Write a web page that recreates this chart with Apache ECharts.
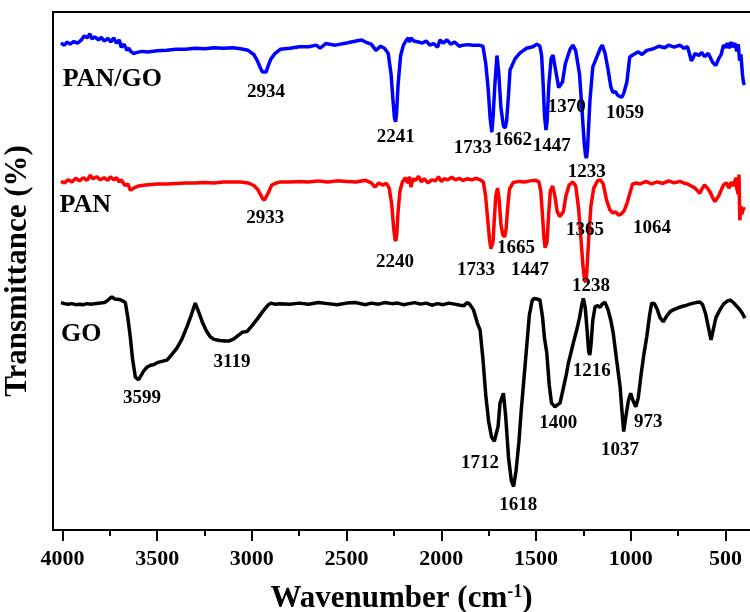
<!DOCTYPE html>
<html>
<head>
<meta charset="utf-8">
<script src="https://cdn.jsdelivr.net/npm/echarts@6/dist/echarts.min.js"></script>
<style>
  html, body { margin: 0; padding: 0; background: #fff; }
  #chart { width: 750px; height: 612px; }
</style>
</head>
<body>
<div id="chart"></div>
<script>
// FTIR spectra: wavenumber (cm-1) vs. transmittance (%, offset per trace)
const majorTicks = [4000, 3500, 3000, 2500, 2000, 1500, 1000, 500];
const minorTicks = [3750, 3250, 2750, 2250, 1750, 1250, 750];

// PAN/GO composite
const panGo = [
  [4008,94.0],[3990,93.6],[3975,94.2],[3960,93.8],[3940,94.3],[3920,94.0],[3900,94.6],[3885,95.4],
  [3870,95.0],[3855,95.8],[3845,94.8],[3830,95.2],[3810,94.6],[3795,95.1],[3780,94.4],[3760,94.9],
  [3745,94.2],[3730,95.0],[3715,94.0],[3700,94.6],[3690,93.2],[3675,93.8],[3660,92.6],[3650,93.0],
  [3640,92.4],[3625,92.0],[3605,92.2],[3580,92.4],[3550,92.3],[3500,92.5],[3450,92.6],[3400,92.8],
  [3350,92.8],[3300,93.0],[3250,92.9],[3200,93.1],[3150,93.0],[3100,93.1],[3060,92.9],[3020,92.6],
  [2990,91.8],[2970,90.5],[2955,89.2],[2944,88.4],[2934,88.1],[2925,88.4],[2915,89.5],[2900,90.9],
  [2880,91.9],[2850,92.8],[2800,93.0],[2750,93.3],[2700,93.3],[2660,93.6],[2640,93.0],[2610,93.9],
  [2560,93.6],[2500,94.0],[2450,94.4],[2420,94.6],[2400,94.2],[2370,93.8],[2345,92.6],[2320,93.4],
  [2300,93.0],[2280,92.0],[2265,88.0],[2255,83.0],[2247,79.5],[2241,78.8],[2236,80.5],[2228,86.0],
  [2215,91.5],[2200,93.6],[2185,94.5],[2175,95.0],[2168,94.2],[2160,95.0],[2145,94.4],[2120,94.2],
  [2100,94.0],[2080,94.4],[2060,93.6],[2040,93.9],[2020,93.2],[2006,94.6],[1990,94.0],[1970,94.6],
  [1950,93.8],[1930,94.2],[1905,93.4],[1885,93.6],[1860,93.7],[1830,93.6],[1800,93.6],[1780,93.4],
  [1765,90.0],[1752,85.0],[1742,79.5],[1733,76.8],[1726,80.0],[1717,86.0],[1706,91.6],[1697,88.5],
  [1685,81.5],[1672,78.0],[1662,77.6],[1655,79.0],[1645,84.0],[1637,88.8],[1610,91.0],[1584,92.1],
  [1550,93.0],[1516,93.3],[1495,93.8],[1479,93.4],[1470,91.5],[1462,86.0],[1455,80.0],[1447,77.2],
  [1441,79.0],[1432,86.0],[1420,91.0],[1410,91.7],[1395,88.5],[1380,85.4],[1370,85.1],[1360,86.5],
  [1345,90.0],[1320,92.8],[1305,93.6],[1290,92.5],[1270,88.0],[1255,80.0],[1245,74.5],[1238,72.2],
  [1233,71.8],[1228,73.5],[1215,83.0],[1200,89.4],[1180,91.2],[1160,93.0],[1150,93.6],[1135,92.0],
  [1120,89.0],[1105,85.6],[1094,84.5],[1080,84.6],[1070,84.0],[1059,83.7],[1045,83.6],[1035,84.5],
  [1020,86.5],[1005,91.3],[985,91.8],[960,92.3],[940,91.8],[915,92.6],[880,92.9],[850,93.4],
  [820,93.1],[800,93.6],[770,93.2],[740,93.6],[720,93.0],[700,93.3],[690,92.0],[680,90.6],
  [672,91.0],[660,92.0],[640,91.6],[625,92.2],[610,91.4],[590,92.0],[566,90.2],[550,89.7],
  [545,89.8],[535,91.0],[522,91.8],[510,93.6],[500,93.1],[490,94.0],[480,93.0],[470,94.2],
  [460,93.2],[450,94.0],[440,92.4],[432,93.8],[425,90.6],[418,91.8],[410,88.0],[405,86.5],[400,85.9]
];

// PAN
const pan = [
  [4008,67.3],[3990,67.0],[3970,67.6],[3950,67.2],[3930,67.9],[3910,67.4],[3890,68.0],[3870,67.5],
  [3853,68.5],[3840,67.8],[3820,68.2],[3800,67.6],[3780,68.0],[3760,67.5],[3747,68.2],[3730,67.6],
  [3715,68.0],[3700,67.2],[3690,67.6],[3670,66.5],[3655,66.8],[3642,65.6],[3625,66.0],[3600,66.4],
  [3560,66.6],[3500,66.8],[3450,66.8],[3400,66.9],[3350,67.0],[3300,67.0],[3250,67.1],[3200,67.0],
  [3150,67.2],[3100,67.2],[3060,67.2],[3020,67.0],[2990,66.5],[2970,65.8],[2955,64.8],[2944,64.0],
  [2933,63.7],[2925,64.0],[2912,65.2],[2895,66.6],[2870,67.0],[2850,67.2],[2800,67.2],[2750,67.3],
  [2700,67.2],[2650,67.4],[2600,67.2],[2550,67.4],[2500,67.3],[2450,67.2],[2400,67.5],[2370,67.0],
  [2350,66.2],[2330,67.0],[2310,66.6],[2290,66.9],[2275,66.0],[2262,63.0],[2252,58.5],[2245,56.2],
  [2240,55.8],[2235,57.0],[2228,61.5],[2218,65.5],[2205,67.2],[2190,68.0],[2178,67.0],[2168,68.2],
  [2160,66.2],[2150,67.8],[2135,67.5],[2120,68.3],[2105,67.2],[2090,67.8],[2070,67.0],[2050,67.6],
  [2030,67.4],[2015,68.2],[2000,67.3],[1985,67.8],[1965,67.6],[1945,68.1],[1925,67.6],[1905,67.9],
  [1885,67.5],[1865,67.8],[1840,67.6],[1815,67.9],[1795,67.6],[1778,67.2],[1766,64.5],[1755,60.0],
  [1745,56.0],[1738,54.3],[1733,54.0],[1727,55.5],[1720,60.0],[1712,64.5],[1703,66.0],[1695,64.0],
  [1685,59.0],[1675,57.0],[1665,56.6],[1658,58.0],[1650,62.0],[1640,65.8],[1620,67.1],[1590,67.3],
  [1560,67.2],[1530,67.4],[1500,67.5],[1485,67.2],[1475,65.5],[1466,61.0],[1458,56.5],[1452,54.5],
  [1447,54.2],[1442,55.5],[1433,61.0],[1424,65.5],[1412,66.4],[1400,64.5],[1388,61.5],[1375,60.5],
  [1365,60.2],[1355,61.5],[1342,64.5],[1325,66.6],[1305,67.2],[1290,66.4],[1275,62.0],[1262,56.0],
  [1252,51.0],[1244,48.5],[1238,47.8],[1232,49.5],[1222,56.0],[1210,62.5],[1195,66.0],[1175,67.4],
  [1160,67.6],[1145,66.8],[1128,63.8],[1110,61.8],[1094,61.2],[1080,61.4],[1064,60.8],[1050,61.0],
  [1035,61.6],[1020,63.0],[1005,64.9],[990,66.8],[970,67.0],[950,66.8],[920,67.3],[890,66.8],
  [860,67.2],[830,66.9],[800,67.4],[770,67.0],[741,67.3],[720,67.0],[700,66.8],[680,66.4],
  [660,66.0],[645,65.4],[635,65.0],[625,65.8],[610,66.6],[595,66.0],[580,65.2],[565,64.0],
  [555,63.4],[545,63.1],[535,64.5],[525,65.4],[510,66.6],[495,67.0],[480,66.0],[470,67.2],
  [460,66.4],[452,67.0],[445,68.0],[440,66.0],[432,64.8],[428,68.6],[424,59.8],[418,62.5],
  [412,61.0],[405,62.2],[400,61.8]
];

// GO
const go = [
  [4008,43.9],[3990,43.7],[3970,43.6],[3950,43.7],[3930,43.5],[3910,43.6],[3890,43.5],[3870,43.7],
  [3850,43.6],[3830,43.7],[3800,43.8],[3780,43.9],[3765,44.2],[3750,44.7],[3739,45.0],[3725,44.6],
  [3700,44.5],[3680,44.2],[3668,43.9],[3655,41.0],[3642,37.3],[3630,33.0],[3615,29.5],[3599,29.0],
  [3585,29.8],[3573,30.6],[3555,31.4],[3535,31.8],[3520,31.9],[3500,32.3],[3470,32.6],[3448,32.8],
  [3420,34.0],[3396,35.1],[3370,36.8],[3343,39.2],[3320,41.5],[3299,43.8],[3280,42.0],[3260,40.0],
  [3240,38.4],[3220,37.3],[3200,36.8],[3170,36.6],[3140,36.5],[3119,36.5],[3095,36.9],[3070,37.6],
  [3050,38.2],[3026,38.3],[3000,39.4],[2970,40.8],[2940,42.3],[2915,43.4],[2900,43.8],[2880,43.6],
  [2850,43.7],[2800,43.6],[2750,43.8],[2700,43.6],[2650,43.9],[2600,43.7],[2550,43.5],[2500,43.8],
  [2450,43.9],[2400,43.5],[2370,43.8],[2330,43.6],[2300,43.9],[2260,43.7],[2230,43.8],[2200,43.5],
  [2170,43.7],[2140,43.9],[2110,43.6],[2080,43.8],[2050,43.4],[2020,43.7],[1990,43.5],[1960,43.8],
  [1930,43.6],[1900,43.4],[1880,43.3],[1865,43.9],[1850,43.6],[1830,42.5],[1810,40.0],[1795,38.6],
  [1780,33.0],[1765,26.0],[1750,21.0],[1735,18.0],[1720,17.1],[1712,17.0],[1700,20.0],[1690,24.5],
  [1672,26.4],[1660,22.0],[1645,14.0],[1630,9.5],[1618,8.4],[1605,11.5],[1590,17.0],[1578,23.0],
  [1567,27.7],[1550,35.0],[1535,41.5],[1520,44.3],[1510,44.7],[1495,44.6],[1479,44.4],[1465,41.0],
  [1455,37.0],[1443,34.2],[1430,28.0],[1418,24.5],[1400,23.8],[1385,24.2],[1373,24.5],[1355,27.5],
  [1340,30.0],[1329,32.2],[1310,35.0],[1300,36.5],[1285,38.6],[1270,41.0],[1258,43.5],[1250,44.7],
  [1240,43.0],[1230,38.5],[1222,34.5],[1216,33.8],[1210,35.5],[1200,40.5],[1188,43.1],[1175,43.3],
  [1162,43.0],[1150,43.6],[1136,44.0],[1120,42.6],[1105,40.5],[1092,38.0],[1075,33.0],[1056,27.7],
  [1045,22.5],[1037,19.0],[1025,22.0],[1012,25.0],[1000,26.4],[988,25.0],[973,23.8],[960,25.5],
  [945,30.0],[930,34.0],[915,37.3],[900,41.5],[889,43.8],[875,43.7],[860,42.6],[845,41.0],
  [828,40.2],[810,41.3],[790,42.2],[775,42.5],[750,42.9],[725,43.2],[704,43.4],[680,43.7],
  [655,43.9],[634,44.0],[620,43.5],[605,41.8],[590,39.2],[576,36.7],[565,38.5],[550,41.0],
  [529,42.5],[510,43.6],[490,44.2],[476,44.4],[460,44.0],[440,43.2],[423,42.5],[410,41.8],[397,40.9]
];

// Peak annotations: [wavenumber, transmittance, text]
const panGoPeaks = [
  [2926,84.6,'2934'],[2241,75.9,'2241'],[1834,73.8,'1733'],[1621,75.2,'1662'],
  [1417,74.1,'1447'],[1338,81.7,'1370'],[1232,69.0,'1233'],[1030,80.5,'1059']
];
const panPeaks = [
  [2930,60.2,'2933'],[2244,51.7,'2240'],[1816,50.2,'1733'],[1605,54.4,'1665'],
  [1531,50.2,'1447'],[1241,57.9,'1365'],[1209,47.1,'1238'],[887,58.3,'1064']
];
const goPeaks = [
  [3580,25.5,'3599'],[3105,32.5,'3119'],[1795,12.9,'1712'],[1593,4.8,'1618'],
  [1382,20.6,'1400'],[1206,30.75,'1216'],[1056,15.4,'1037'],[907,20.9,'973']
];
// Trace names
const traceNames = [
  [3737,87.0,'PAN/GO'],[3880,62.7,'PAN'],[3901,37.8,'GO']
];

const FONT = '"Liberation Serif", "Times New Roman", serif';

function lineSeries(name, data, color) {
  return {
    name, type: 'line', data, showSymbol: false, symbol: 'none',
    lineStyle: { color, width: 3.5 }, z: 3, silent: true
  };
}
function labelSeries(data, size) {
  return {
    type: 'scatter', data, symbolSize: 0, silent: true, z: 5,
    encode: { x: 0, y: 1 },
    itemStyle: { opacity: 1 },
    label: {
      show: true, position: 'inside', color: '#000', opacity: 1,
      textBorderWidth: 0,
      fontFamily: FONT, fontWeight: 'bold', fontSize: size,
      formatter: p => p.value[2]
    }
  };
}

const chart = echarts.init(document.getElementById('chart'), null, { renderer: 'canvas' });
chart.setOption({
  animation: false,
  backgroundColor: '#fff',
  grid: { left: 53, right: 0, top: 12, bottom: 82, outerBoundsMode: 'none', containLabel: false },
  xAxis: [
    {
      type: 'value', inverse: true, min: 370, max: 4050, position: 'bottom',
      axisLine: { show: true, lineStyle: { color: '#000', width: 2 } },
      axisTick: { show: true, customValues: majorTicks, length: 11, lineStyle: { color: '#000', width: 2 } },
      axisLabel: {
        show: true, customValues: majorTicks, margin: 18, color: '#000',
        fontFamily: FONT, fontWeight: 'bold', fontSize: 22,
        formatter: v => String(v)
      },
      splitLine: { show: false },
      name: 'Wavenumber (cm{sup|-1})', nameLocation: 'middle', nameGap: 53,
      nameTextStyle: {
        color: '#000', fontFamily: FONT, fontWeight: 'bold', fontSize: 31,
        rich: { sup: { fontFamily: FONT, fontWeight: 'bold', fontSize: 18, verticalAlign: 'top', padding: [0, 0, 12, 0] } }
      }
    },
    {
      type: 'value', inverse: true, min: 370, max: 4050, position: 'bottom',
      axisLine: { show: false },
      axisTick: { show: true, customValues: minorTicks, length: 6, lineStyle: { color: '#000', width: 2 } },
      axisLabel: { show: false }, splitLine: { show: false }
    },
    {
      type: 'value', inverse: true, min: 370, max: 4050, position: 'top',
      axisLine: { show: true, lineStyle: { color: '#000', width: 2 } },
      axisTick: { show: false }, axisLabel: { show: false }, splitLine: { show: false }
    }
  ],
  yAxis: {
    type: 'value', min: 0, max: 100, position: 'left',
    axisLine: { show: true, lineStyle: { color: '#000', width: 2 } },
    axisTick: { show: false }, axisLabel: { show: false }, splitLine: { show: false },
    name: 'Transmittance (%)', nameLocation: 'middle', nameGap: 20,
    nameTextStyle: { color: '#000', fontFamily: FONT, fontWeight: 'bold', fontSize: 31 }
  },
  series: [
    lineSeries('GO', go, '#000000'),
    lineSeries('PAN', pan, '#ff0000'),
    lineSeries('PAN/GO', panGo, '#0000ff'),
    labelSeries(panGoPeaks, 19),
    labelSeries(panPeaks, 19),
    labelSeries(goPeaks, 19),
    labelSeries(traceNames, 26)
  ]
});
</script>
</body>
</html>
